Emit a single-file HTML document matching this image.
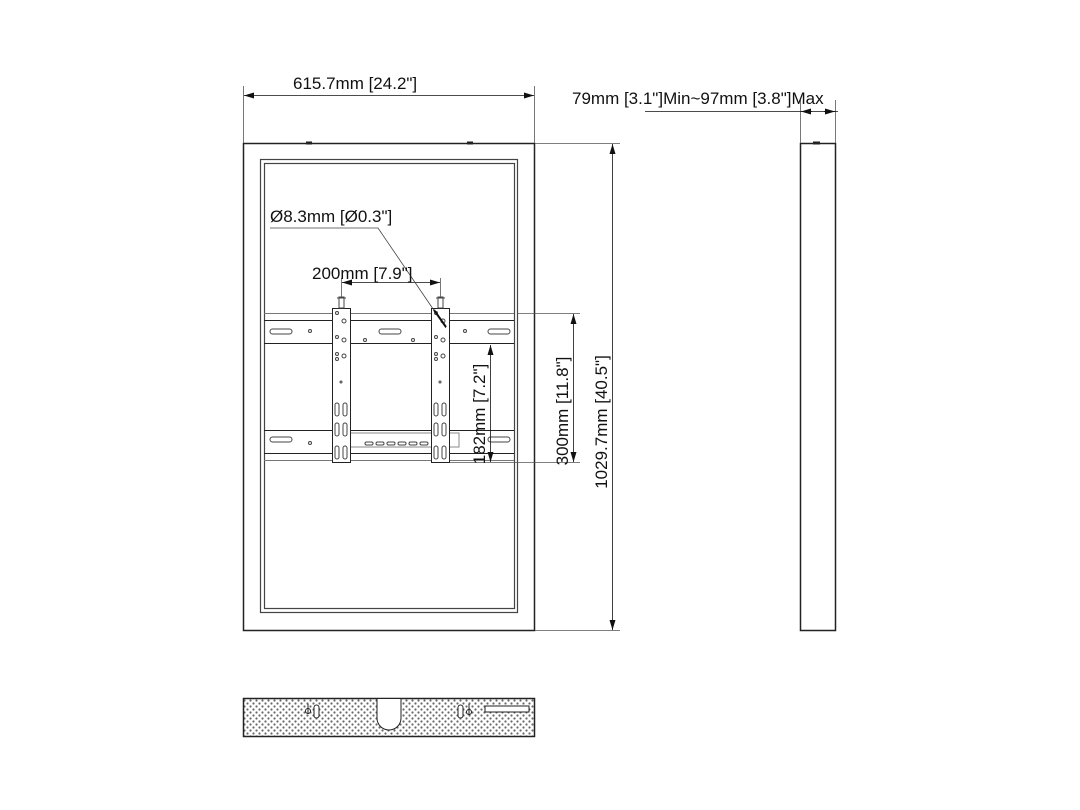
<!DOCTYPE html>
<html><head><meta charset="utf-8"><style>
html,body{margin:0;padding:0;background:#fff}
svg{display:block}
text{font-family:"Liberation Sans",Arial,sans-serif;fill:#111}
</style></head><body>
<svg width="1080" height="810" viewBox="0 0 1080 810" xmlns="http://www.w3.org/2000/svg">
<defs>
<marker id="a" markerWidth="10" markerHeight="6" refX="10" refY="3" orient="auto-start-reverse" markerUnits="userSpaceOnUse"><path d="M0,0 L10,3 L0,6 z" fill="#111"/></marker>
<pattern id="dots" width="6" height="6" patternUnits="userSpaceOnUse"><circle cx="1.5" cy="1.5" r="1.1" fill="#666"/><circle cx="4.5" cy="4.5" r="1.1" fill="#666"/></pattern>
</defs>
<g fill="none" stroke="#222" stroke-width="1">
<rect x="243.5" y="143.5" width="291" height="487" stroke-width="1.5"/>
<rect x="260.5" y="159.5" width="257" height="453" stroke="#444" stroke-width="1.2"/>
<rect x="264.5" y="163.5" width="250" height="445" stroke="#444" stroke-width="1.2"/>
<line x1="306" y1="143" x2="312" y2="143" stroke-width="3"/>
<line x1="467" y1="143" x2="473" y2="143" stroke-width="3"/>
<line x1="264" y1="313.5" x2="514" y2="313.5" stroke="#777"/>
<line x1="264" y1="320.5" x2="514" y2="320.5"/>
<line x1="264" y1="343.5" x2="514" y2="343.5"/>
<line x1="264" y1="430.5" x2="514" y2="430.5"/>
<line x1="264" y1="453.5" x2="514" y2="453.5"/>
<line x1="264" y1="460.5" x2="514" y2="460.5" stroke="#777"/>
<g stroke="#444">
<rect x="270" y="329" width="22" height="5" rx="2.5"/>
<rect x="379" y="329" width="22" height="5" rx="2.5"/>
<rect x="488" y="329" width="22" height="5" rx="2.5"/>
<rect x="270" y="437" width="22" height="5" rx="2.5"/>
<rect x="488" y="437" width="22" height="5" rx="2.5"/>
<rect x="337" y="433" width="122" height="14" stroke="#888"/>
<rect x="365" y="442" width="8" height="3" rx="1.5"/><rect x="376" y="442" width="8" height="3" rx="1.5"/><rect x="387" y="442" width="8" height="3" rx="1.5"/><rect x="398" y="442" width="8" height="3" rx="1.5"/><rect x="409" y="442" width="8" height="3" rx="1.5"/><rect x="420" y="442" width="8" height="3" rx="1.5"/>
<circle cx="310" cy="331" r="1.5"/><circle cx="465" cy="331" r="1.5"/><circle cx="365" cy="340" r="1.5"/><circle cx="413" cy="340" r="1.5"/><circle cx="310" cy="443" r="1.5"/>
</g>
<g fill="#fff">
<rect x="332.5" y="308.5" width="18" height="154"/>
<rect x="431.5" y="308.5" width="18" height="154"/>
</g>
<g stroke="#444">
<circle cx="337" cy="313" r="1.5"/><circle cx="344" cy="321" r="2"/><circle cx="337" cy="337" r="1.5"/><circle cx="344" cy="340" r="2"/><circle cx="337" cy="354" r="1.5"/><circle cx="337" cy="359" r="1.5"/><circle cx="344" cy="356" r="2"/><circle cx="341" cy="382" r="1"/>
<rect x="335" y="403" width="4" height="13" rx="2"/><rect x="343" y="403" width="4" height="13" rx="2"/>
<rect x="335" y="423" width="4" height="13" rx="2"/><rect x="343" y="423" width="4" height="13" rx="2"/>
<rect x="335" y="446" width="4" height="13" rx="2"/><rect x="343" y="446" width="4" height="13" rx="2"/>
<circle cx="436" cy="313" r="1.5"/><circle cx="443" cy="321" r="2"/><circle cx="436" cy="337" r="1.5"/><circle cx="443" cy="340" r="2"/><circle cx="436" cy="354" r="1.5"/><circle cx="436" cy="359" r="1.5"/><circle cx="443" cy="356" r="2"/><circle cx="440" cy="382" r="1"/>
<rect x="434" y="403" width="4" height="13" rx="2"/><rect x="442" y="403" width="4" height="13" rx="2"/>
<rect x="434" y="423" width="4" height="13" rx="2"/><rect x="442" y="423" width="4" height="13" rx="2"/>
<rect x="434" y="446" width="4" height="13" rx="2"/><rect x="442" y="446" width="4" height="13" rx="2"/>
<rect x="339" y="297" width="5" height="11"/><line x1="337" y1="298" x2="346" y2="298"/>
<rect x="438" y="297" width="5" height="11"/><line x1="436" y1="298" x2="445" y2="298"/>
</g>
<rect x="800.5" y="143.5" width="35" height="487" stroke-width="1.5"/>
<line x1="813" y1="143" x2="820" y2="143" stroke-width="3"/>
<rect x="243.5" y="698.5" width="291" height="38" fill="url(#dots)" stroke-width="1.5"/>
<path d="M377 699 V718 A12 12 0 0 0 401 718 V699" fill="#fff"/>
<rect x="485" y="706" width="44" height="6" fill="#fff"/>
<rect x="314" y="705" width="5" height="13" rx="2.5" fill="#fff"/>
<circle cx="308" cy="711" r="2.5" fill="#fff"/><line x1="308" y1="704" x2="308" y2="714"/>
<rect x="458" y="705" width="5" height="13" rx="2.5" fill="#fff"/>
<circle cx="469" cy="712" r="2.5" fill="#fff"/><line x1="469" y1="704" x2="469" y2="714"/>
<g stroke="#555" stroke-width="0.8">
<line x1="243.5" y1="86" x2="243.5" y2="143"/>
<line x1="534.5" y1="86" x2="534.5" y2="143"/>
<line x1="535" y1="143.5" x2="620" y2="143.5"/>
<line x1="535" y1="630.5" x2="620" y2="630.5"/>
<line x1="800.5" y1="100" x2="800.5" y2="143"/>
<line x1="835.5" y1="100" x2="835.5" y2="143"/>
<line x1="517" y1="313.5" x2="580" y2="313.5"/>
<line x1="450" y1="462.5" x2="580" y2="462.5"/>
<line x1="341.5" y1="278" x2="341.5" y2="297"/>
<line x1="440.5" y1="278" x2="440.5" y2="297"/>
</g>
<g stroke="#111" stroke-width="0.8">
<line x1="244" y1="95.5" x2="534" y2="95.5" marker-start="url(#a)" marker-end="url(#a)"/>
<line x1="612.5" y1="144" x2="612.5" y2="630" marker-start="url(#a)" marker-end="url(#a)"/>
<line x1="573.5" y1="314" x2="573.5" y2="462" marker-start="url(#a)" marker-end="url(#a)"/>
<line x1="490.5" y1="345" x2="490.5" y2="462" marker-start="url(#a)" marker-end="url(#a)"/>
<line x1="342" y1="282.5" x2="440" y2="282.5" marker-start="url(#a)" marker-end="url(#a)"/>
<line x1="645" y1="111.5" x2="838" y2="111.5"/>
<line x1="812" y1="111.5" x2="801" y2="111.5" marker-end="url(#a)"/>
<line x1="824" y1="111.5" x2="835" y2="111.5" marker-end="url(#a)"/>
<polyline points="270,228 378,228 446,328" stroke="#444"/>
<line x1="434" y1="310" x2="446" y2="327" stroke-width="2"/>
</g>
</g>
<g font-size="17">
<text x="293" y="89">615.7mm [24.2"]</text>
<text x="572" y="104">79mm [3.1"]Min~97mm [3.8"]Max</text>
<text x="270" y="222">Ø8.3mm [Ø0.3"]</text>
<text x="312" y="279">200mm [7.9"]</text>
<text transform="translate(607,422) rotate(-90)" text-anchor="middle">1029.7mm [40.5"]</text>
<text transform="translate(568,411) rotate(-90)" text-anchor="middle">300mm [11.8"]</text>
<text transform="translate(485,414) rotate(-90)" text-anchor="middle">182mm [7.2"]</text>
</g>
</svg>
</body></html>
